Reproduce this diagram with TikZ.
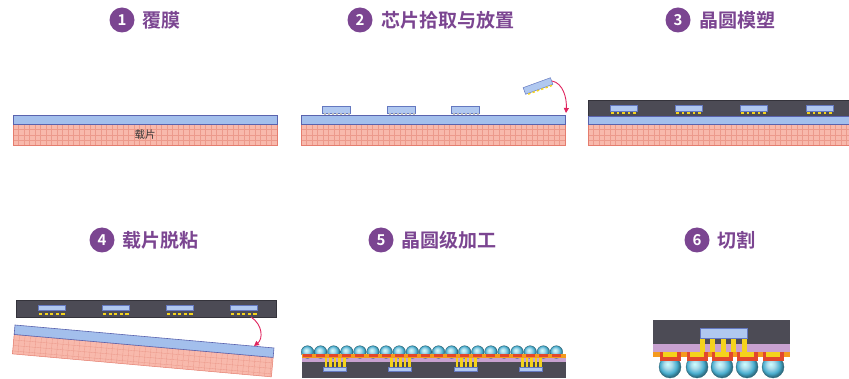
\documentclass[tikz,border=0pt]{standalone}
\usepackage{fontspec}
\newfontfamily\cjk{Noto Sans CJK SC}[BoldFont={Noto Sans CJK SC Bold}]
\usetikzlibrary{arrows.meta}

\definecolor{titlepurple}{HTML}{7B4591}
\definecolor{filmblue}{HTML}{A3BFEC}
\definecolor{filmedge}{HTML}{5A63AE}
\definecolor{carrierpink}{HTML}{F8B9AC}
\definecolor{gridpink}{HTML}{EC9A8C}
\definecolor{carrieredge}{HTML}{E57D6E}
\definecolor{moldgray}{HTML}{4C4B55}
\definecolor{moldedge}{HTML}{34333B}
\definecolor{chipblue}{HTML}{B0C8F0}
\definecolor{chipedge}{HTML}{6478C0}
\definecolor{bumpyellow}{HTML}{F4D31C}
\definecolor{layerorange}{HTML}{F49A1E}
\definecolor{padred}{HTML}{E2482C}
\definecolor{layerpurple}{HTML}{C8A1D0}
\definecolor{ballblue}{HTML}{4AAFD0}
\definecolor{arrowred}{HTML}{E0245E}

% glossy solder ball: light highlight at upper left, deeper blue rim
\pgfdeclareradialshading{glassball}{\pgfqpoint{-6bp}{7bp}}{%
  color(0bp)=(white!80!cyan);
  color(9bp)=(ballblue!45!white);
  color(19bp)=(ballblue);
  color(25bp)=(ballblue!65!black);
  color(50bp)=(ballblue!65!black)}

% carrier slab with its fine grid: corners (x1,y1) (x2,y2)
\newcommand\carrierslab[4]{%
  \fill[carrierpink] (#1,#2) rectangle (#3,#4);
  \begin{scope}
    \clip (#1,#2) rectangle (#3,#4);
    \foreach \gx in {0,5.5,...,290} \draw[gridline] (#1+\gx,#2) -- (#1+\gx,#4);
    \foreach \gy in {0,5.5,...,30} \draw[gridline] (#1,#2+\gy) -- (#3,#2+\gy);
  \end{scope}
  \draw[carrieredge,line width=0.5pt] (#1,#2) rectangle (#3,#4);}

\begin{document}
\begin{tikzpicture}[x=1pt,y=-1pt,
  gridline/.style={draw=gridpink,line width=0.35pt},
  film/.style={fill=filmblue,draw=filmedge,line width=0.6pt},
  mold/.style={fill=moldgray,draw=moldedge,line width=0.5pt},
  chipbox/.style={rectangle,fill=chipblue,draw=chipedge,line width=0.5pt,inner sep=0pt},
  bump/.style={fill=bumpyellow},
  pillar/.style={fill=bumpyellow},
  solderball/.style={shading=glassball,draw=ballblue!55!black,line width=0.3pt},
  arrowline/.style={draw=arrowred,line width=0.9pt,-{Triangle[length=5pt,width=5pt]}},
  numdot/.style={circle,fill=titlepurple,text=white,minimum size=25pt,inner sep=0pt,
    font=\cjk\bfseries\fontsize{15}{15}\selectfont},
  titletext/.style={anchor=west,text=titlepurple,inner sep=0pt,
    font=\cjk\bfseries\fontsize{19}{19}\selectfont},
  smalllabel/.style={inner sep=0pt,text=black!80,font=\cjk\fontsize{10.5}{10.5}\selectfont}]

\useasboundingbox (0,0) rectangle (849,379);
\fill[white] (0,0) rectangle (849,379);

% ---------- titles ----------
\node[numdot] (n1) at (122,20) {1};
\node[titletext] (t1) at (142,20) {覆膜};
\node[numdot] (n2) at (360,20) {2};
\node[titletext] (t2) at (381,20) {芯片拾取与放置};
\node[numdot] (n3) at (678,20) {3};
\node[titletext] (t3) at (699,20) {晶圆模塑};
\node[numdot] (n4) at (102,240) {4};
\node[titletext] (t4) at (122,240) {载片脱粘};
\node[numdot] (n5) at (381,240) {5};
\node[titletext] (t5) at (401,240) {晶圆级加工};
\node[numdot] (n6) at (697,240) {6};
\node[titletext] (t6) at (717,240) {切割};

% ---------- 1: film on carrier ----------
\carrierslab{13}{124}{277}{145}
\draw[film] (13,115) rectangle (277,124);
\node[smalllabel] (lab1) at (145,135) {载片};

% ---------- 2: die pick and place ----------
\carrierslab{301}{124}{565}{145}
\draw[film] (301,115) rectangle (565,124);
\foreach \cx [count=\k] in {322,387,451}{
  \node[chipbox,minimum width=28pt,minimum height=7pt] (c2-\k) at (\cx+14,109.5) {};
  \foreach \d in {0,...,6} \fill[black!25] (\cx+2+\d*4,113) rectangle ++(2.2,1.8);
}
\begin{scope}[shift={(538,86)},rotate=20]
  \node[chipbox,minimum width=29pt,minimum height=7pt,transform shape] (c2t) at (0,0) {};
  \foreach \d in {0,...,5} \fill[bump] (-12+\d*4.6,3.6) rectangle ++(2.4,1.4);
\end{scope}
\coordinate (drop2) at (566,113);
\draw[arrowline] (c2t.east) .. controls (563,83) and (567,98) .. (drop2);

% ---------- 3: wafer molding ----------
\carrierslab{588}{124}{849}{145}
\draw[film] (588,116) rectangle (849,124);
\fill[moldgray] (588,100) rectangle (849,116);
\draw[moldedge,line width=0.5pt] (849,100) -- (588,100) -- (588,116);
\foreach \cx [count=\k] in {610,675,740,806}{
  \node[chipbox,minimum width=27pt,minimum height=6pt] (c3-\k) at (\cx+13.5,108) {};
  \foreach \d in {0,...,4} \fill[bump] (\cx+1+\d*5.6,112) rectangle ++(2.6,2);
}

% ---------- 4: carrier debond ----------
\draw[mold] (16,300) rectangle (276,317);
\foreach \cx [count=\k] in {38,102,166,230}{
  \node[chipbox,minimum width=27pt,minimum height=5.5pt] (c4-\k) at (\cx+13.5,308) {};
  \foreach \d in {0,...,4} \fill[bump] (\cx+1+\d*5.6,313.2) rectangle ++(3.2,1.4);
}
\begin{scope}[shift={(15,325)},rotate=-5.07]
  \carrierslab{0}{9.5}{260}{29}
  \draw[film] (0,0) rectangle (260,9.5);
\end{scope}
\coordinate (lift4) at (251,317);
\coordinate (land4) at (254,346);
\draw[arrowline] (lift4) .. controls (263,325) and (263,339) .. (land4);

% ---------- 5: wafer-level processing ----------
\fill[moldgray] (302,362) rectangle (566,378);
\fill[layerpurple] (302,357) rectangle (566,362);
\foreach \i in {0,...,19}{
  \path[solderball] (307.5+13.1*\i,352) circle (6.3);
}
\fill[layerorange] (302,354.5) rectangle (566,358);
\foreach \i in {0,...,19}{
  \fill[padred] (303+13.1*\i,354.5) rectangle ++(9,2.2);
}
\foreach \cx [count=\k] in {323,388.5,454,519.5}{
  \foreach \d in {0,...,4} \fill[pillar] (\cx+1.5+\d*4.6,358) rectangle ++(2.6,9);
  \node[chipbox,minimum width=23pt,minimum height=4pt] (c5-\k) at (\cx+11.5,369) {};
}

% ---------- 6: singulation ----------
\fill[moldgray] (653,320) rectangle (790,344);
\fill[layerpurple] (653,344) rectangle (790,352);
\foreach \bx in {702,712,723,733,744} \fill[pillar] (\bx-2.5,338) rectangle ++(5,14);
\node[chipbox,minimum width=47pt,minimum height=10pt] (c6) at (723.5,333) {};
\foreach \bx in {670,697,722,747,773}{
  \path[solderball] (\bx,367) circle (11);
}
\fill[layerorange] (653,352) rectangle (790,357.5);
\foreach \bx in {670,697,722,747,773}{
  \fill[padred] (\bx-10.5,352) rectangle ++(21,9);
  \fill[bumpyellow] (\bx-7,352) rectangle ++(14,5.5);
}
\end{tikzpicture}
\end{document}
